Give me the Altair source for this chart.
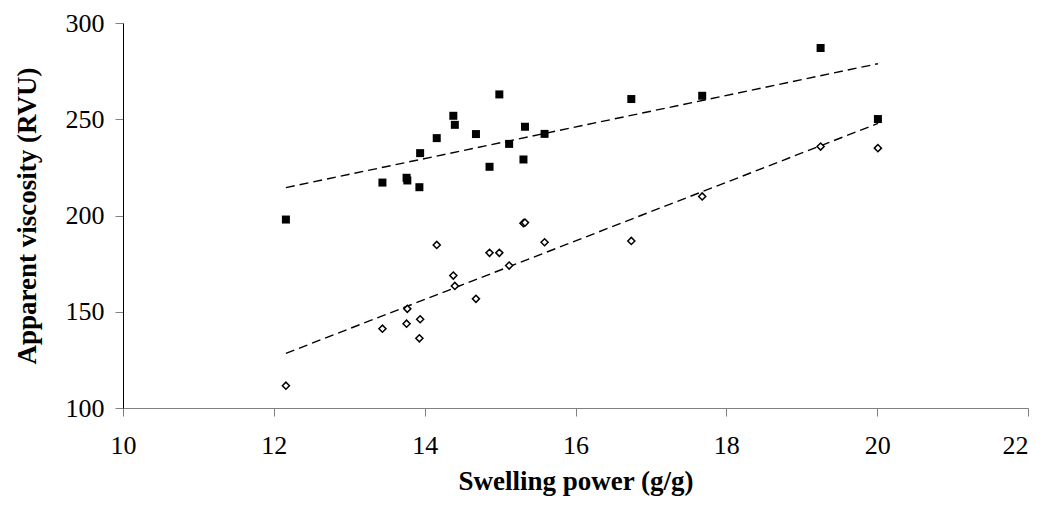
import altair as alt
import pandas as pd

swelling = [12.16, 13.44, 13.76, 13.77, 13.93, 13.94, 14.16, 14.38, 14.40, 14.68,
            14.86, 14.99, 15.12, 15.31, 15.33, 15.59, 16.74, 17.68, 19.25, 20.01]
filled_vals = [197.9, 217.1, 219.6, 218.2, 214.7, 232.4, 240.2, 251.8, 247.1, 242.3,
               225.3, 262.9, 237.2, 229.1, 246.1, 242.4, 260.5, 262.2, 287.0, 250.1]
open_vals = [111.6, 141.2, 143.8, 151.5, 136.2, 146.1, 184.7, 168.8, 163.4, 156.7,
             180.6, 180.6, 174.0, 196.0, 196.3, 186.1, 186.8, 209.9, 235.8, 235.0]

df_f = pd.DataFrame({"sp": swelling, "v": filled_vals})
df_o = pd.DataFrame({"sp": swelling, "v": open_vals})

FONT = "Liberation Serif"

x_enc = alt.X("sp:Q", scale=alt.Scale(domain=[10, 22], nice=False, zero=False),
              axis=alt.Axis(title="Swelling power (g/g)", values=[10, 12, 14, 16, 18, 20, 22],
                            domainColor="#808080", tickColor="#808080",
                            tickSize=8, labelPadding=16, titlePadding=10,
                            titleFontSize=27,
                            labelAlign={"condition": {"test": "datum.value >= 22", "value": "right"},
                                        "value": "center"},
                            labelFlush=False, labelOverlap=False, grid=False))
y_enc = alt.Y("v:Q", scale=alt.Scale(domain=[100, 300], nice=False, zero=False),
              axis=alt.Axis(title="Apparent viscosity (RVU)", values=[100, 150, 200, 250, 300],
                            domainColor="#000000", tickColor="#808080",
                            tickSize=8, labelPadding=11, titlePadding=24,
                            titleFontSize=27,
                            labelFlush=False, labelOverlap=False, grid=False))

pts_f = alt.Chart(df_f).mark_point(shape="square", filled=True, color="black", size=64,
                                    opacity=1).encode(x=x_enc, y=y_enc)
pts_o = alt.Chart(df_o).mark_point(shape="diamond", filled=True, fill="white", stroke="black",
                                    strokeWidth=1.5, size=50, opacity=1).encode(x=x_enc, y=y_enc)

line_f = alt.Chart(df_f).transform_regression("sp", "v").mark_line(
    color="black", strokeDash=[9, 5], strokeWidth=1.4).encode(x=x_enc, y=y_enc)
line_o = alt.Chart(df_o).transform_regression("sp", "v").mark_line(
    color="black", strokeDash=[9, 5], strokeWidth=1.4).encode(x=x_enc, y=y_enc)

chart = alt.layer(line_f, line_o, pts_f, pts_o).properties(
    width=905, height=385,
    background="white",
    autosize=alt.AutoSizeParams(type="none"),
    padding={"left": 115, "top": 15, "right": 8, "bottom": 91},
).configure_view(stroke=None).configure_axis(
    labelFont=FONT, labelFontSize=26, labelColor="black",
    titleFont=FONT, titleFontWeight="bold", titleColor="black",
)

chart.save("out.html", embed_options={"renderer": "svg", "actions": False})
